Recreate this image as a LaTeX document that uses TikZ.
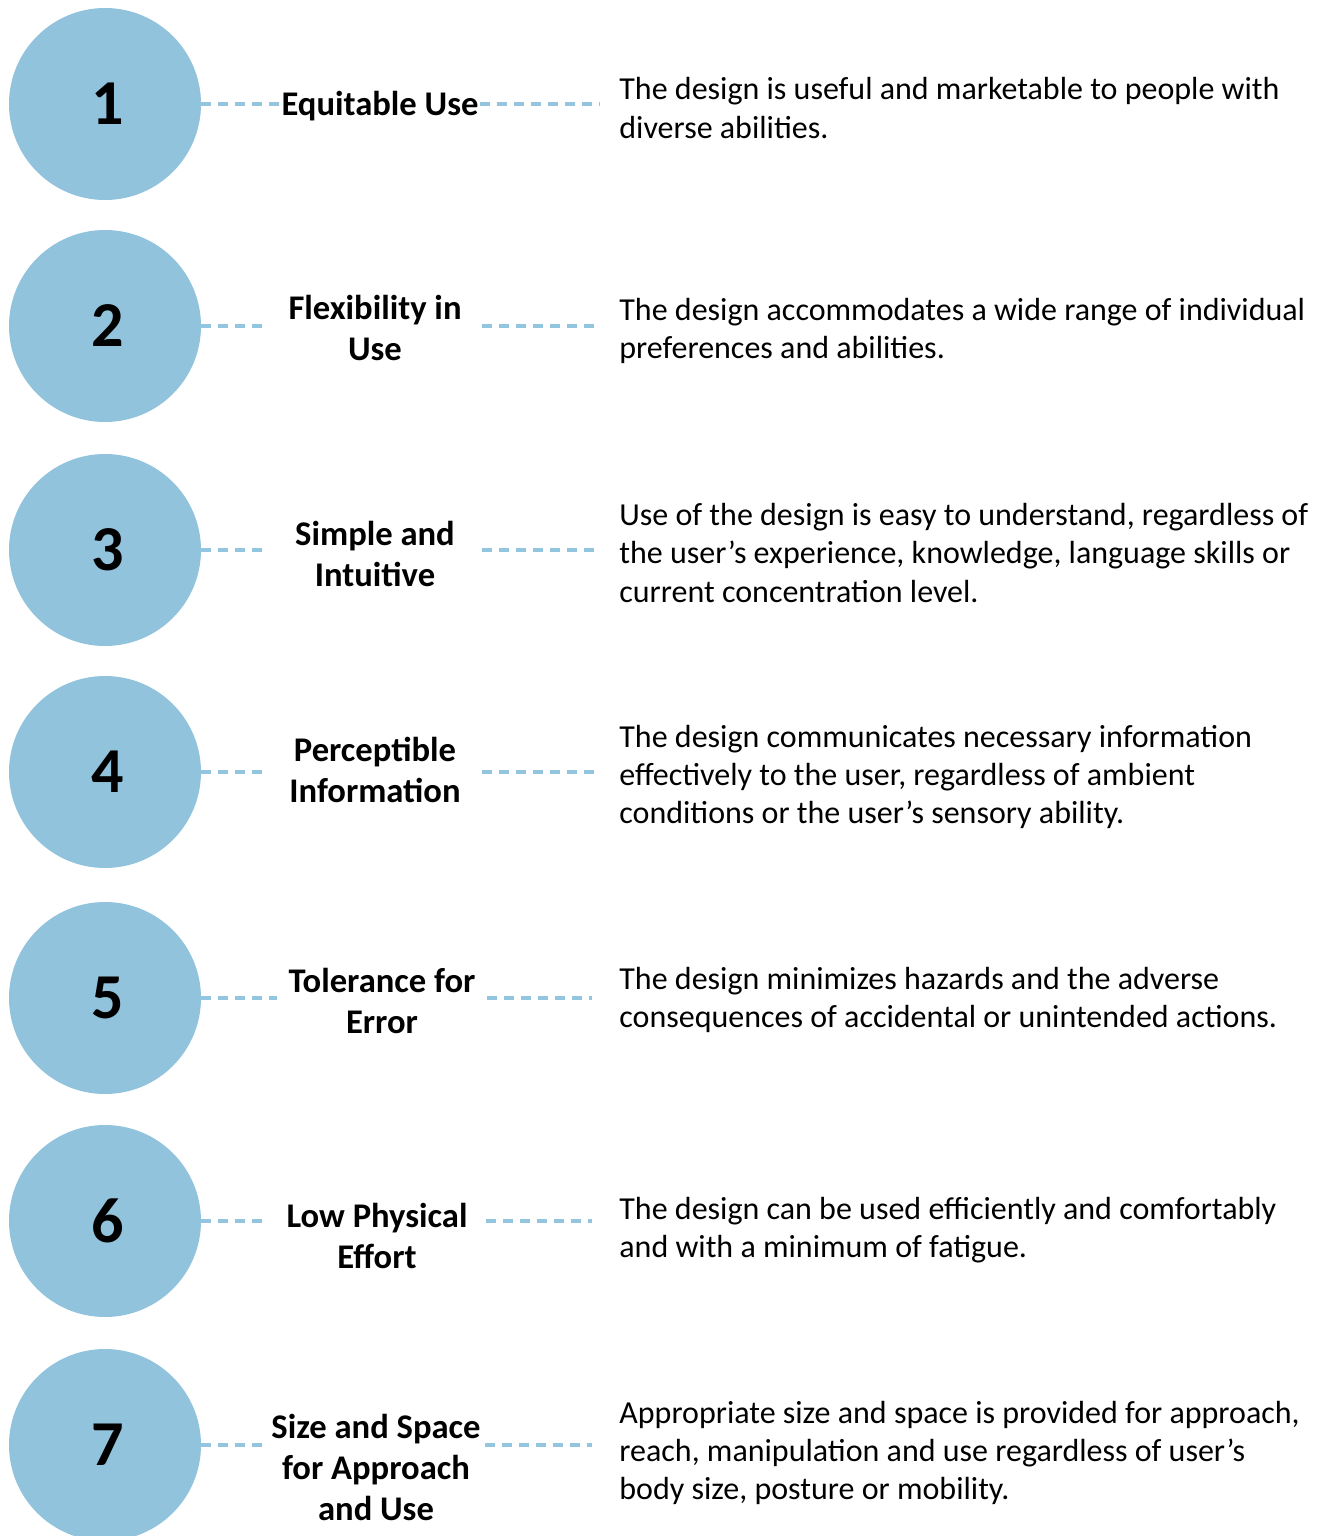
\documentclass[tikz,border=0pt]{standalone}
\usepackage{fontspec}
\setmainfont{Carlito}
\usepackage{tikz}
\usetikzlibrary{positioning}
\definecolor{circblue}{HTML}{92C3DC}
\definecolor{lineblue}{HTML}{94C5DF}

\tikzset{
  numcircle/.style={circle, fill=circblue, minimum size=96pt, inner sep=0pt,
    font=\bfseries\fontsize{32}{32}\selectfont},
  principle/.style={fill=white, align=center, inner sep=0pt,
    font=\bfseries\fontsize{17.3}{20.5}\selectfont},
  descr/.style={anchor=west, align=left, inner sep=0pt,
    font=\fontsize{16}{19.2}\selectfont},
  dashline/.style={draw=lineblue, line width=1.7pt, dash pattern=on 5pt off 3.5pt}
}

\begin{document}
\begin{tikzpicture}[x=0.5pt, y=-0.5pt]
  \useasboundingbox (0,0) rectangle (1320,1536);
  \foreach \n/\y/\lx/\ly/\lw/\ex/\dy/\lbl/\desc in {
    1/104/380/106/100/600/108/{Equitable Use}/{The design is useful and marketable to people with\\diverse abilities.},
    2/326/375/328/107/600/331/{Flexibility in\\Use}/{The design accommodates a wide range of individual\\preferences and abilities.},
    3/550/375/554/107/600/553/{Simple and\\Intuitive}/{Use of the design is easy to understand, regardless of\\the user’s experience, knowledge, language skills or\\current concentration level.},
    4/772/375/770/107/600/777/{Perceptible\\Information}/{The design communicates necessary information\\effectively to the user, regardless of ambient\\conditions or the user’s sensory ability.},
    5/998/382/1001/104.5/592/1000/{Tolerance for\\Error}/{The design minimizes hazards and the adverse\\consequences of accidental or unintended actions.},
    6/1221/377/1236/108.5/592/1230/{Low Physical\\Effort}/{The design can be used efficiently and comfortably\\and with a minimum of fatigue.},
    7/1445/376/1467/108.5/592/1453/{Size and Space\\for Approach\\and Use}/{Appropriate size and space is provided for approach,\\reach, manipulation and use regardless of user’s\\body size, posture or mobility.}} {
    % circle, principle, description
    \node[numcircle] (c\n) at (105,\y) {\hspace{3pt}\n};
    \node[principle, minimum width=\lw pt] (l\n) at (\lx,\ly) {\lbl};
    \coordinate (e\n) at (\ex,\y);
    \node[descr] (d\n) at (619,\dy) {\desc};
    \draw[dashline] (c\n.east) -- (c\n.east -| l\n.west);
    \draw[dashline] (c\n.east -| l\n.east) -- (e\n);
  }
\end{tikzpicture}
\end{document}
